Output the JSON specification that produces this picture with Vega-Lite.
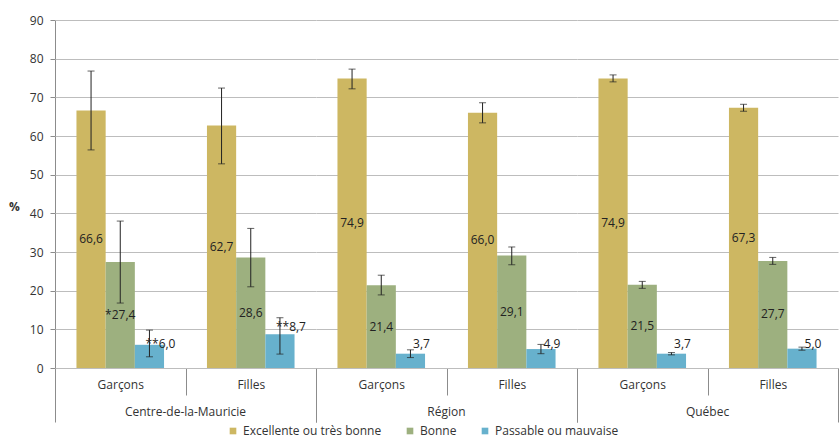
{
  "$schema": "https://vega.github.io/schema/vega-lite/v6.json",
  "padding": {"left": 8, "top": 14, "right": 0, "bottom": 2},
  "data": {"values": [
    {"region": "Centre-de-la-Mauricie", "sex": "Garçons", "category": "Excellente ou très bonne", "value": 66.6, "lo": 56.4, "hi": 76.8, "label": "66,6"},
    {"region": "Centre-de-la-Mauricie", "sex": "Garçons", "category": "Bonne", "value": 27.4, "lo": 16.8, "hi": 38.0, "label": "*27,4"},
    {"region": "Centre-de-la-Mauricie", "sex": "Garçons", "category": "Passable ou mauvaise", "value": 6.0, "lo": 2.9, "hi": 9.8, "label": "**6,0"},
    {"region": "Centre-de-la-Mauricie", "sex": "Filles", "category": "Excellente ou très bonne", "value": 62.7, "lo": 52.8, "hi": 72.4, "label": "62,7"},
    {"region": "Centre-de-la-Mauricie", "sex": "Filles", "category": "Bonne", "value": 28.6, "lo": 21.0, "hi": 36.1, "label": "28,6"},
    {"region": "Centre-de-la-Mauricie", "sex": "Filles", "category": "Passable ou mauvaise", "value": 8.7, "lo": 3.6, "hi": 13.0, "label": "**8,7"},
    {"region": "Région", "sex": "Garçons", "category": "Excellente ou très bonne", "value": 74.9, "lo": 72.2, "hi": 77.3, "label": "74,9"},
    {"region": "Région", "sex": "Garçons", "category": "Bonne", "value": 21.4, "lo": 18.9, "hi": 24.0, "label": "21,4"},
    {"region": "Région", "sex": "Garçons", "category": "Passable ou mauvaise", "value": 3.7, "lo": 2.7, "hi": 4.7, "label": "3,7"},
    {"region": "Région", "sex": "Filles", "category": "Excellente ou très bonne", "value": 66.0, "lo": 63.4, "hi": 68.6, "label": "66,0"},
    {"region": "Région", "sex": "Filles", "category": "Bonne", "value": 29.1, "lo": 26.7, "hi": 31.3, "label": "29,1"},
    {"region": "Région", "sex": "Filles", "category": "Passable ou mauvaise", "value": 4.9, "lo": 3.7, "hi": 6.1, "label": "4,9"},
    {"region": "Québec", "sex": "Garçons", "category": "Excellente ou très bonne", "value": 74.9, "lo": 74.0, "hi": 75.8, "label": "74,9"},
    {"region": "Québec", "sex": "Garçons", "category": "Bonne", "value": 21.5, "lo": 20.6, "hi": 22.4, "label": "21,5"},
    {"region": "Québec", "sex": "Garçons", "category": "Passable ou mauvaise", "value": 3.7, "lo": 3.4, "hi": 4.0, "label": "3,7"},
    {"region": "Québec", "sex": "Filles", "category": "Excellente ou très bonne", "value": 67.3, "lo": 66.4, "hi": 68.2, "label": "67,3"},
    {"region": "Québec", "sex": "Filles", "category": "Bonne", "value": 27.7, "lo": 26.8, "hi": 28.6, "label": "27,7"},
    {"region": "Québec", "sex": "Filles", "category": "Passable ou mauvaise", "value": 5.0, "lo": 4.6, "hi": 5.4, "label": "5,0"}
  ]},
  "transform": [
    {"calculate": "datum.category === 'Passable ou mauvaise' ? (datum.value < 7 ? 6.2 : datum.value + 2) : datum.value / 2", "as": "labelY"}
  ],
  "facet": {
    "column": {
      "field": "region", "type": "nominal",
      "sort": ["Centre-de-la-Mauricie", "Région", "Québec"],
      "header": {"title": null, "labelOrient": "bottom", "labelPadding": -16, "labelFont": "Open Sans", "labelFontSize": 12, "labelColor": "#333333"}
    }
  },
  "spacing": 0,
  "bounds": "flush",
  "spec": {
    "width": 261,
    "height": 348,
    "encoding": {
      "x": {
        "field": "sex", "type": "nominal", "sort": ["Garçons", "Filles"],
        "scale": {"paddingInner": 0, "paddingOuter": 0},
        "axis": {
          "title": null, "labelAngle": 0, "tickBand": "extent", "grid": false,
          "tickSize": {"condition": {"test": "datum.value === 'Filles' || datum.extra", "value": 54}, "value": 27},
          "labelPadding": {"condition": {"test": "datum.value === 'Filles'", "value": -42.5}, "value": -15.5},
          "domainColor": "#8c8c8c", "tickColor": "#8c8c8c", "labelColor": "#333333", "labelFontSize": 12
        }
      },
      "xOffset": {
        "field": "category", "type": "nominal",
        "sort": ["Excellente ou très bonne", "Bonne", "Passable ou mauvaise"],
        "scale": {"paddingInner": 0, "paddingOuter": 0.735}
      }
    },
    "layer": [
      {
        "mark": {"type": "bar"},
        "encoding": {
          "y": {
            "field": "value", "type": "quantitative", "title": "%",
            "scale": {"domain": [0, 90], "nice": false},
            "axis": {
              "values": [0, 10, 20, 30, 40, 50, 60, 70, 80, 90], "tickCount": 20, "labelOverlap": false,
              "title": "%", "titleAngle": 0, "titleAlign": "right", "titleBaseline": "middle",
              "titleY": 186, "titlePadding": 10, "titleFontWeight": "bold", "titleFontSize": 12, "titleColor": "#333333",
              "labelPadding": 7, "tickSize": 5, "labelColor": "#333333", "labelFontSize": 12,
              "domainColor": "#8c8c8c", "tickColor": "#8c8c8c", "gridColor": "#bdbdbd"
            }
          },
          "color": {
            "field": "category", "type": "nominal",
            "sort": ["Excellente ou très bonne", "Bonne", "Passable ou mauvaise"],
            "scale": {"domain": ["Excellente ou très bonne", "Bonne", "Passable ou mauvaise"], "range": ["#CDB762", "#9DB07F", "#67B1CD"]},
            "legend": {"title": null, "orient": "bottom", "direction": "horizontal", "symbolType": "square", "symbolSize": 44, "symbolStrokeWidth": 0, "labelFontSize": 12, "labelColor": "#333333", "labelOffset": 4, "columnPadding": 22, "offset": 2, "padding": 0}
          }
        }
      },
      {
        "mark": {"type": "rule", "color": "#222222", "strokeWidth": 1},
        "encoding": {
          "y": {"field": "lo", "type": "quantitative", "title": "%", "axis": {"values": [0, 10, 20, 30, 40, 50, 60, 70, 80, 90], "tickCount": 20, "labelOverlap": false}},
          "y2": {"field": "hi"}
        }
      },
      {
        "mark": {"type": "tick", "color": "#222222", "thickness": 1, "size": 7},
        "encoding": {"y": {"field": "lo", "type": "quantitative", "title": "%", "axis": {"values": [0, 10, 20, 30, 40, 50, 60, 70, 80, 90], "tickCount": 20, "labelOverlap": false}}}
      },
      {
        "mark": {"type": "tick", "color": "#222222", "thickness": 1, "size": 7},
        "encoding": {"y": {"field": "hi", "type": "quantitative", "title": "%", "axis": {"values": [0, 10, 20, 30, 40, 50, 60, 70, 80, 90], "tickCount": 20, "labelOverlap": false}}}
      },
      {
        "transform": [{"filter": "datum.category !== 'Passable ou mauvaise'"}],
        "mark": {"type": "text", "fontSize": 12, "color": "#222222", "baseline": "middle", "align": "center"},
        "encoding": {
          "y": {"field": "labelY", "type": "quantitative", "title": "%", "axis": {"values": [0, 10, 20, 30, 40, 50, 60, 70, 80, 90], "tickCount": 20, "labelOverlap": false}},
          "text": {"field": "label"}
        }
      },
      {
        "transform": [{"filter": "datum.category === 'Passable ou mauvaise'"}],
        "mark": {"type": "text", "fontSize": 12, "color": "#222222", "baseline": "middle", "align": "center", "dx": 11},
        "encoding": {
          "y": {"field": "labelY", "type": "quantitative", "title": "%", "axis": {"values": [0, 10, 20, 30, 40, 50, 60, 70, 80, 90], "tickCount": 20, "labelOverlap": false}},
          "text": {"field": "label"}
        }
      }
    ]
  },
  "config": {
    "font": "Open Sans",
    "view": {"stroke": null},
    "axis": {"labelFont": "Open Sans", "titleFont": "Open Sans"},
    "axisY": {"tickCount": 20},
    "legend": {"labelFont": "Open Sans", "layout": {"bottom": {"anchor": "middle"}}}
  }
}
